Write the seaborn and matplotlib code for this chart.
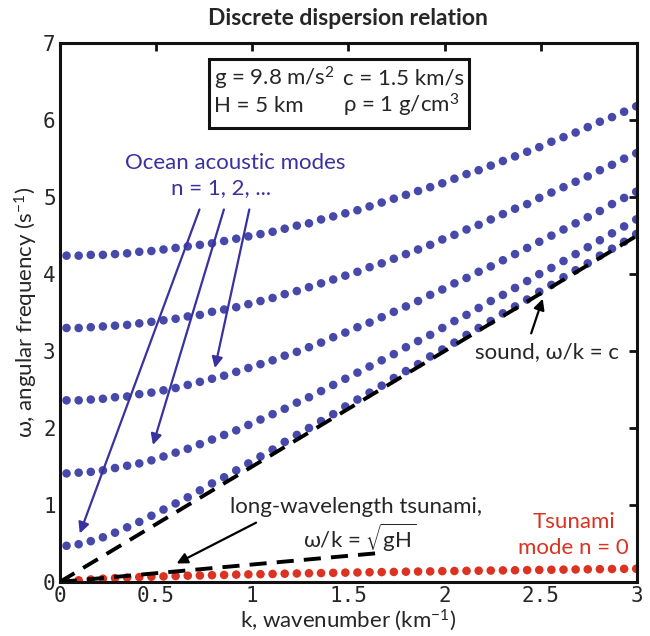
import numpy as np
import pandas as pd
import matplotlib
matplotlib.use("Agg")
import matplotlib.pyplot as plt
from matplotlib.patches import Rectangle
import seaborn as sns

# wavenumber samples (km^-1)
k_vals = [0.035, 0.098, 0.161, 0.224, 0.287, 0.350, 0.413, 0.476, 0.539, 0.602,
          0.665, 0.728, 0.791, 0.854, 0.917, 0.980, 1.043, 1.106, 1.169, 1.232,
          1.295, 1.358, 1.421, 1.484, 1.547, 1.610, 1.673, 1.736, 1.799, 1.862,
          1.925, 1.988, 2.051, 2.114, 2.177, 2.240, 2.303, 2.366, 2.429, 2.492,
          2.555, 2.618, 2.681, 2.744, 2.807, 2.870, 2.933, 2.996]

# ocean acoustic modes n = 1..5 (s^-1)
mode_1 = [0.47, 0.49, 0.53, 0.58, 0.64, 0.71, 0.78, 0.86, 0.94, 1.02,
          1.10, 1.19, 1.28, 1.36, 1.45, 1.54, 1.63, 1.72, 1.82, 1.91,
          2.00, 2.09, 2.18, 2.28, 2.37, 2.46, 2.55, 2.65, 2.74, 2.83,
          2.93, 3.02, 3.11, 3.21, 3.30, 3.39, 3.49, 3.58, 3.67, 3.77,
          3.86, 3.96, 4.05, 4.14, 4.24, 4.33, 4.42, 4.52]
mode_2 = [1.41, 1.42, 1.43, 1.45, 1.48, 1.51, 1.54, 1.58, 1.63, 1.68,
          1.73, 1.79, 1.85, 1.91, 1.97, 2.04, 2.11, 2.18, 2.25, 2.33,
          2.40, 2.48, 2.56, 2.64, 2.72, 2.80, 2.88, 2.96, 3.05, 3.13,
          3.21, 3.30, 3.39, 3.47, 3.56, 3.65, 3.73, 3.82, 3.91, 4.00,
          4.08, 4.17, 4.26, 4.35, 4.44, 4.53, 4.62, 4.71]
mode_3 = [2.36, 2.36, 2.37, 2.38, 2.40, 2.41, 2.44, 2.46, 2.49, 2.52,
          2.56, 2.60, 2.64, 2.68, 2.73, 2.78, 2.83, 2.88, 2.94, 2.99,
          3.05, 3.11, 3.18, 3.24, 3.31, 3.37, 3.44, 3.51, 3.58, 3.65,
          3.73, 3.80, 3.88, 3.95, 4.03, 4.10, 4.18, 4.26, 4.34, 4.42,
          4.50, 4.58, 4.66, 4.74, 4.82, 4.91, 4.99, 5.07]
mode_4 = [3.30, 3.30, 3.31, 3.32, 3.33, 3.34, 3.36, 3.38, 3.40, 3.42,
          3.45, 3.47, 3.51, 3.54, 3.57, 3.61, 3.65, 3.69, 3.74, 3.78,
          3.83, 3.88, 3.93, 3.98, 4.03, 4.09, 4.14, 4.20, 4.26, 4.32,
          4.38, 4.45, 4.51, 4.58, 4.64, 4.71, 4.78, 4.85, 4.91, 4.99,
          5.06, 5.13, 5.20, 5.27, 5.35, 5.42, 5.50, 5.57]
mode_5 = [4.24, 4.24, 4.25, 4.25, 4.26, 4.27, 4.29, 4.30, 4.32, 4.34,
          4.36, 4.38, 4.40, 4.43, 4.46, 4.49, 4.52, 4.55, 4.59, 4.63,
          4.66, 4.71, 4.75, 4.79, 4.83, 4.88, 4.93, 4.98, 5.03, 5.08,
          5.13, 5.18, 5.24, 5.30, 5.35, 5.41, 5.47, 5.53, 5.59, 5.65,
          5.72, 5.78, 5.84, 5.91, 5.98, 6.04, 6.11, 6.18]

# tsunami mode n = 0
tsunami = [0.008, 0.021, 0.032, 0.042, 0.050, 0.057, 0.063, 0.068, 0.072, 0.077,
           0.081, 0.084, 0.088, 0.091, 0.095, 0.098, 0.101, 0.104, 0.107, 0.110,
           0.113, 0.115, 0.118, 0.121, 0.123, 0.126, 0.128, 0.130, 0.133, 0.135,
           0.137, 0.140, 0.142, 0.144, 0.146, 0.148, 0.150, 0.152, 0.154, 0.156,
           0.158, 0.160, 0.162, 0.164, 0.166, 0.168, 0.170, 0.171]

# reference lines
sound_k = [0.0, 3.0]
sound_w = [0.0, 4.5]
shallow_k = [0.0, 1.665]
shallow_w = [0.0, 0.377]

BLUE = "#4649aa"
ARROW_BLUE = "#3a31a0"
RED = "#dc3222"
FS = 16

modes = {"n=1": mode_1, "n=2": mode_2, "n=3": mode_3, "n=4": mode_4,
         "n=5": mode_5, "n=0": tsunami}
df = pd.concat([pd.DataFrame({"k": k_vals, "omega": v, "mode": m})
                for m, v in modes.items()], ignore_index=True)
palette = {m: (RED if m == "n=0" else BLUE) for m in modes}

sns.set_style("white")
plt.rcParams["font.family"] = ["Lato", "DejaVu Sans"]
plt.rcParams["mathtext.default"] = "regular"

fig = plt.figure(figsize=(6.5, 6.36), dpi=100)
ax = fig.add_axes([0.092, 0.085, 0.888, 0.847])

sns.scatterplot(data=df, x="k", y="omega", hue="mode", palette=palette,
                s=38, linewidth=0, legend=False, ax=ax, zorder=2)
for lk, lw_ in [(sound_k, sound_w), (shallow_k, shallow_w)]:
    sns.lineplot(x=lk, y=lw_, ax=ax, color="black", linewidth=2.8,
                 linestyle=(0, (4.4, 2.6)), zorder=3)

ax.set_xlim(0, 3)
ax.set_ylim(0, 7)
ax.set_xticks([0, 0.5, 1, 1.5, 2, 2.5, 3])
ax.set_xticklabels(["0", "0.5", "1", "1.5", "2", "2.5", "3"],
                   family="DejaVu Sans Mono", fontsize=15)
ax.set_yticks(range(8))
ax.set_yticklabels([str(i) for i in range(8)], family="DejaVu Sans Mono", fontsize=15)
ax.tick_params(direction="in", length=6, width=2, top=True, right=True,
               color="#111111", pad=3)
for sp in ax.spines.values():
    sp.set_linewidth(2.2)
    sp.set_color("#111111")

ax.set_xlabel("k, wavenumber (km$^{-1}$)", fontsize=FS, labelpad=1)
ax.set_ylabel("ω, angular frequency (s$^{-1}$)", fontsize=FS, labelpad=2)
ax.set_title("Discrete dispersion relation", fontsize=16.5, fontweight="bold", pad=13)

# parameter box
ax.add_patch(Rectangle((0.775, 5.90), 1.352, 0.89, fill=False, ec="#111111", lw=2.2,
                       zorder=4))
ax.text(0.80, 6.54, "g = 9.8 m/s$^2$", ha="left", va="center", fontsize=FS)
ax.text(1.47, 6.54, "c = 1.5 km/s", ha="left", va="center", fontsize=FS)
ax.text(0.80, 6.19, "H = 5 km", ha="left", va="center", fontsize=FS)
ax.text(1.47, 6.19, "ρ = 1 g/cm$^3$", ha="left", va="center", fontsize=FS)

# acoustic mode labels and arrows
ax.text(0.91, 5.45, "Ocean acoustic modes", ha="center", va="center",
        fontsize=FS, color=ARROW_BLUE)
ax.text(0.84, 5.12, "n = 1, 2, ...", ha="center", va="center",
        fontsize=FS, color=ARROW_BLUE)
for tail, head in [((0.726, 4.84), (0.104, 0.63)),
                   ((0.853, 4.84), (0.484, 1.78)),
                   ((0.985, 4.84), (0.806, 2.78))]:
    ax.annotate("", xy=head, xytext=tail,
                arrowprops=dict(arrowstyle="-|>", color=ARROW_BLUE, lw=1.6,
                                mutation_scale=16, shrinkA=0, shrinkB=0))

# sound line label
ax.text(2.53, 2.99, "sound, ω/k = c", ha="center", va="center", fontsize=FS)
ax.annotate("", xy=(2.51, 3.68), xytext=(2.45, 3.23),
            arrowprops=dict(arrowstyle="-|>", color="black", lw=1.6,
                            mutation_scale=16, shrinkA=0, shrinkB=0))

# long-wavelength tsunami label
ax.text(1.54, 0.98, "long-wavelength tsunami,", ha="center", va="center", fontsize=FS)
ax.text(1.56, 0.58, r"ω/k = $\sqrt{gH}$", ha="center", va="center", fontsize=FS)
ax.annotate("", xy=(0.607, 0.24), xytext=(1.02, 0.77),
            arrowprops=dict(arrowstyle="-|>", color="black", lw=1.6,
                            mutation_scale=16, shrinkA=0, shrinkB=0))

# tsunami mode label
ax.text(2.67, 0.78, "Tsunami", ha="center", va="center", fontsize=FS, color=RED)
ax.text(2.67, 0.44, "mode n = 0", ha="center", va="center", fontsize=FS, color=RED)

fig.savefig("out.png", dpi=100)
